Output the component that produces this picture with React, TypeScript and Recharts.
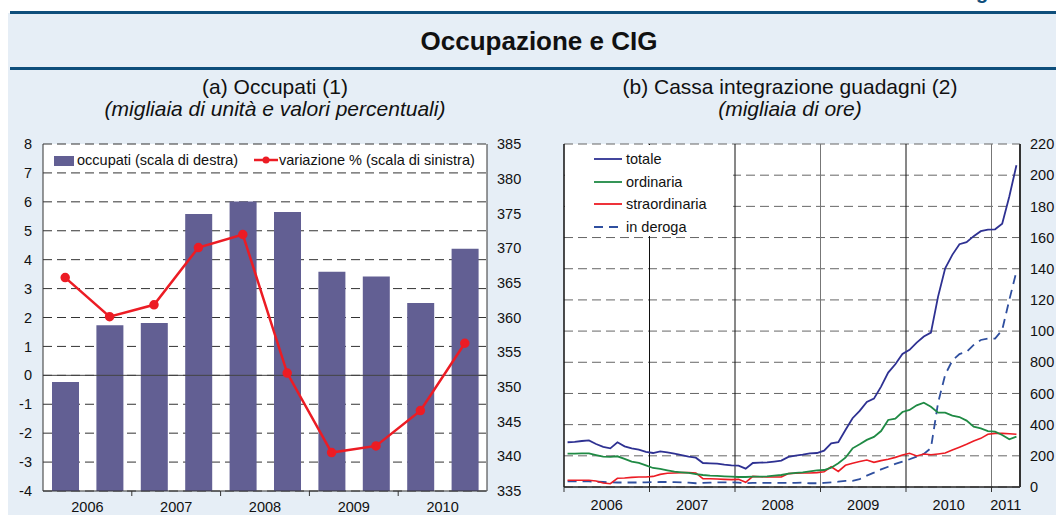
import { ComposedChart, LineChart, Bar, Line, XAxis, YAxis, CartesianGrid, ReferenceLine } from 'recharts'

const FONT = '"Liberation Sans", Arial, Helvetica, sans-serif'

// (a) Occupati - semestral data
const halfYears = ['I 2006', 'II 2006', 'I 2007', 'II 2007', 'I 2008', 'II 2008', 'I 2009', 'II 2009', 'I 2010', 'II 2010']
const occupati = [350.7, 358.9, 359.2, 374.9, 376.7, 375.2, 366.6, 365.9, 362.1, 369.9]
const variazione = [3.38, 2.03, 2.44, 4.42, 4.87, 0.08, -2.67, -2.44, -1.22, 1.11]
const yearsA = ['2006', '2007', '2008', '2009', '2010']
const ticksLeftA = [-4, -3, -2, -1, 0, 1, 2, 3, 4, 5, 6, 7, 8]
const ticksRightA = [335, 340, 345, 350, 355, 360, 365, 370, 375, 380, 385]

// (b) Cassa integrazione guadagni - monthly, Jan 2006 - Apr 2011
const totale = [
  287, 289, 295, 299, 276, 257, 248, 287, 261, 248, 240, 225,
  218, 229, 222, 214, 205, 195, 188, 154, 152, 150, 143, 139,
  137, 118, 154, 156, 158, 163, 169, 193, 201, 207, 216, 218,
  233, 280, 287, 366, 441, 488, 545, 567, 644, 734, 787, 853,
  880, 926, 965, 990, 1221, 1403, 1489, 1557, 1570, 1609, 1641, 1651,
  1653, 1688, 1863, 2064,
]
const ordinaria = [
  214, 214, 216, 216, 205, 195, 193, 197, 180, 163, 154, 139,
  122, 116, 107, 98, 94, 90, 83, 77, 73, 71, 68, 66,
  64, 64, 66, 66, 68, 73, 77, 86, 90, 94, 100, 107,
  109, 124, 152, 188, 248, 274, 302, 321, 359, 430, 438, 481,
  494, 524, 541, 515, 477, 477, 458, 449, 426, 387, 376, 359,
  355, 334, 306, 323,
]
const straordinaria = [
  43, 43, 43, 43, 39, 26, 21, 56, 58, 62, 64, 64,
  68, 81, 88, 90, 92, 92, 90, 53, 53, 51, 49, 47,
  49, 30, 68, 66, 64, 64, 64, 86, 88, 90, 90, 92,
  98, 130, 100, 139, 152, 163, 173, 158, 169, 178, 190, 205,
  216, 199, 212, 207, 212, 218, 237, 255, 274, 295, 312, 338,
  344, 344, 342, 338,
]
const inDeroga = [
  36, 36, 36, 36, 34, 32, 30, 29, 29, 29, 29, 30,
  31, 32, 32, 31, 30, 28, 24, 26, 28, 30, 30, 30,
  28, 24, 26, 27, 27, 27, 26, 26, 27, 28, 24, 24,
  26, 30, 34, 39, 39, 51, 73, 92, 113, 130, 148, 163,
  178, 195, 212, 250, 540, 720, 811, 853, 866, 911, 943, 952,
  952, 1007, 1200, 1382,
]
const yearsB = ['2006', '2007', '2008', '2009', '2010', '2011']
const ticksB = [0, 200, 400, 600, 800, 1000, 1200, 1400, 1600, 1800, 2000, 2200]

const dataA = halfYears.map((h, i) => ({ h, occupati: occupati[i], variazione: variazione[i] }))
const dataB = totale.map((v, i) => ({
  t: i + 0.5,
  totale: v,
  ordinaria: ordinaria[i],
  straordinaria: straordinaria[i],
  inDeroga: inDeroga[i],
}))

const N_MONTHS = totale.length
const yearStartsB = yearsB.map((_, i) => i * 12)
const labelPosB = yearsB.map((_, i) => Math.min(i * 12 + 6, (i * 12 + N_MONTHS) / 2))

const BAR = '#625f93'
const RED = '#ec1c24'
const BAND_A = 444 / halfYears.length

function YearTickA({ x, y, index }: any) {
  if (index % 2 !== 0) return null
  return (
    <g>
      {index > 0 && <line x1={x - BAND_A / 2} x2={x - BAND_A / 2} y1={y} y2={y + 5} stroke="#333" />}
      <text x={x + BAND_A / 2} y={y + 21} textAnchor="middle" fontSize={14.5} fill="#111" fontFamily={FONT}>
        {yearsA[index / 2]}
      </text>
    </g>
  )
}

function YearTickB({ x, y, payload }: any) {
  const k = labelPosB.indexOf(payload.value)
  if (k < 0) return <line x1={x} x2={x} y1={y} y2={y + 5} stroke="#333" />
  return (
    <text x={x} y={y + 23} textAnchor="middle" fontSize={14.5} fill="#111" fontFamily={FONT}>
      {yearsB[k]}
    </text>
  )
}

const legendText = { position: 'absolute' as const, fontSize: 14.5, color: '#111', whiteSpace: 'nowrap' as const, lineHeight: '16px' }
const tickStyle = { fontSize: 14.5, fill: '#111', fontFamily: FONT }

export default function App() {
  return (
    <div style={{ position: 'absolute', left: 0, top: 0, width: 1056, height: 515, background: '#fff', overflow: 'hidden', fontFamily: FONT }}>
      <div style={{ position: 'absolute', left: 976, top: -18, fontSize: 20, lineHeight: '20px', fontWeight: 'bold', color: '#0e4e7b' }}>g</div>
      <div style={{ position: 'absolute', left: 8, top: 13, right: 0, bottom: 0, background: '#e6eef6' }} />
      <div style={{ position: 'absolute', left: 10, top: 11, right: 0, height: 3, background: '#0e4e7b' }} />
      <div style={{ position: 'absolute', left: 10, top: 67, right: 0, height: 3, background: '#0e4e7b' }} />

      <div style={{ position: 'absolute', left: 0, width: 1078, top: 26, textAlign: 'center', fontSize: 26, fontWeight: 'bold', color: '#111' }}>
        Occupazione e CIG
      </div>
      <div style={{ position: 'absolute', left: 0, width: 550, top: 76, textAlign: 'center', fontSize: 21, color: '#111', lineHeight: '22px' }}>
        (a) Occupati (1)
        <br />
        <i>(migliaia di unità e valori percentuali)</i>
      </div>
      <div style={{ position: 'absolute', left: 530, width: 520, top: 76, textAlign: 'center', fontSize: 21, color: '#111', lineHeight: '22px' }}>
        (b) Cassa integrazione guadagni (2)
        <br />
        <i>(migliaia di ore)</i>
      </div>

      <div style={{ position: 'absolute', left: 0, top: 0 }}>
        <ComposedChart width={540} height={515} data={dataA} margin={{ top: 144, right: 0, bottom: 0, left: 0 }}>
          <CartesianGrid yAxisId="l" vertical={false} fill="#fff" stroke="#333" strokeDasharray="9 5" />
          <XAxis dataKey="h" height={24} tickSize={0} tickMargin={0} interval={0} tick={<YearTickA />} axisLine={{ stroke: '#333' }} />
          <YAxis yAxisId="l" domain={[-4, 8]} ticks={ticksLeftA} width={43} tickLine={false} tickSize={9} tickMargin={2}
            axisLine={{ stroke: '#333' }} tick={tickStyle} interval={0} />
          <YAxis yAxisId="r" orientation="right" domain={[335, 385]} ticks={ticksRightA} width={53} tickLine={false} tickSize={8} tickMargin={2}
            axisLine={{ stroke: '#333' }} tick={{ ...tickStyle, textAnchor: 'start' }} interval={0} />
          <Bar yAxisId="r" dataKey="occupati" fill={BAR} barSize={27} isAnimationActive={false} />
          <ReferenceLine yAxisId="l" y={0} stroke="#444" />
          <Line yAxisId="l" dataKey="variazione" stroke={RED} strokeWidth={2.5} type="linear"
            dot={{ r: 3.5, fill: RED, stroke: RED }} isAnimationActive={false} />
        </ComposedChart>
      </div>

      <div style={{ position: 'absolute', left: 540, top: 0 }}>
        <LineChart width={516} height={515} data={dataB} margin={{ top: 144, right: 0, bottom: 0, left: 24 }}>
          <CartesianGrid vertical={false} fill="#fff" stroke="#666" strokeDasharray="9 5" />
          <XAxis dataKey="t" type="number" domain={[0, N_MONTHS]} ticks={[...yearStartsB, ...labelPosB].sort((a, b) => a - b)}
            interval={0} height={28} tickSize={0} tickMargin={0} tick={<YearTickB />} axisLine={{ stroke: '#222', strokeWidth: 1.5 }} />
          <YAxis orientation="right" domain={[0, 2200]} ticks={ticksB} width={36} tickLine={false} tickSize={8} tickMargin={2}
            axisLine={{ stroke: '#333', strokeWidth: 2 }} interval={0}
            tickFormatter={(v: number) => String(v).slice(0, 3)}
            tick={{ ...tickStyle, textAnchor: 'start' }} />
          <ReferenceLine x={0} stroke="#111" strokeWidth={1.5} />
          <ReferenceLine x={12} stroke="#111" />
          <ReferenceLine x={24} stroke="#111" />
          <ReferenceLine x={36} stroke="#777" />
          <ReferenceLine x={48} stroke="#111" />
          <ReferenceLine x={60} stroke="#777" />
          <Line dataKey="inDeroga" stroke="#2f4f9f" strokeWidth={1.8} strokeDasharray="9 6" dot={false} isAnimationActive={false} />
          <Line dataKey="straordinaria" stroke={RED} strokeWidth={1.6} dot={false} isAnimationActive={false} />
          <Line dataKey="ordinaria" stroke="#1f8a44" strokeWidth={1.8} dot={false} isAnimationActive={false} />
          <Line dataKey="totale" stroke="#2e3192" strokeWidth={1.8} dot={false} isAnimationActive={false} />
        </LineChart>
      </div>

      {/* legend (a) */}
      <div style={{ position: 'absolute', left: 54, top: 156, width: 20, height: 10, background: BAR }} />
      <div style={{ ...legendText, left: 77, top: 152 }}>occupati (scala di destra)</div>
      <svg style={{ position: 'absolute', left: 252, top: 152 }} width={28} height={16}>
        <line x1={2} x2={26} y1={8} y2={8} stroke={RED} strokeWidth={2.5} />
        <circle cx={14} cy={8} r={3.5} fill={RED} />
      </svg>
      <div style={{ ...legendText, left: 279, top: 152 }}>variazione % (scala di sinistra)</div>

      {/* legend (b) */}
      <div style={{ position: 'absolute', left: 565, top: 145, width: 168, height: 91, background: '#fff' }} />
      {[
        { name: 'totale', color: '#2e3192', dash: undefined },
        { name: 'ordinaria', color: '#1f8a44', dash: undefined },
        { name: 'straordinaria', color: RED, dash: undefined },
        { name: 'in deroga', color: '#2f4f9f', dash: '9 6' },
      ].map((s, i) => (
        <div key={s.name}>
          <svg style={{ position: 'absolute', left: 593, top: 151 + i * 22.6 }} width={30} height={16}>
            <line x1={1} x2={29} y1={8} y2={8} stroke={s.color} strokeWidth={1.8} strokeDasharray={s.dash} />
          </svg>
          <div style={{ ...legendText, left: 626, top: 151 + i * 22.6 }}>{s.name}</div>
        </div>
      ))}
    </div>
  )
}
